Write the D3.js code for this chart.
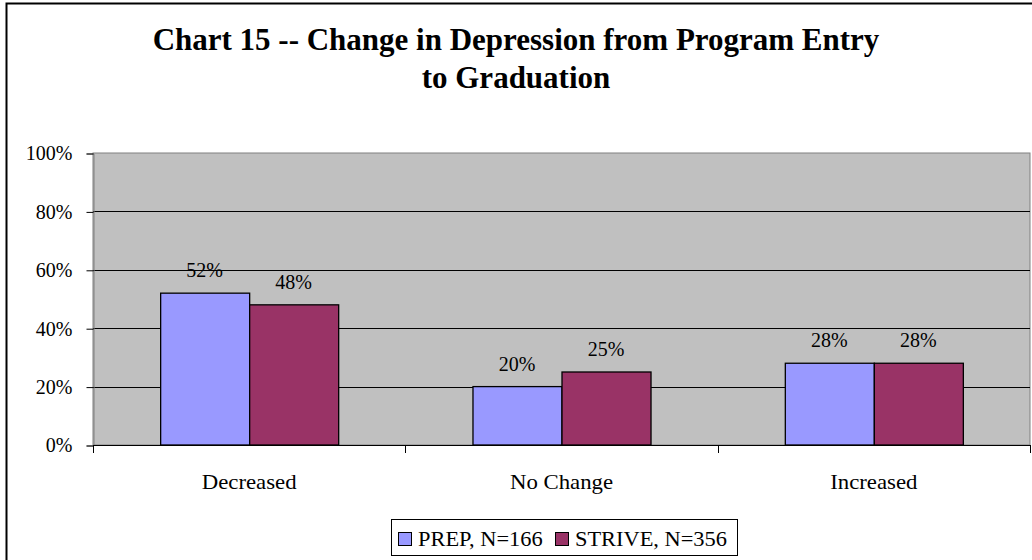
<!DOCTYPE html>
<html>
<head>
<meta charset="utf-8">
<script src="https://cdn.jsdelivr.net/npm/d3@7"></script>
<style>
  html, body { margin: 0; padding: 0; background: #fff; }
  svg { display: block; }
</style>
</head>
<body>
<svg id="chart" width="1032" height="560"></svg>
<script>
// Chart data
const categories = ["Decreased", "No Change", "Increased"];
const seriesNames = ["PREP, N=166", "STRIVE, N=356"];
const prepValues = [52, 20, 28];
const striveValues = [48, 25, 28];
const yTicks = [0, 20, 40, 60, 80, 100];
const titleLines = ["Chart 15 -- Change in Depression from Program Entry", "to Graduation"];
const seriesColors = ["#9999FF", "#993366"];

const SERIF = "'Liberation Serif', 'Times New Roman', 'DejaVu Serif', serif";
const svg = d3.select("#chart").style("font-family", SERIF);
const W = 1032, H = 560;

// Outer chart frame (runs past the right and bottom edges)
svg.append("rect")
  .attr("x", 6.5).attr("y", 3.5)
  .attr("width", W + 20).attr("height", H + 20)
  .attr("fill", "#fff").attr("stroke", "#000").attr("stroke-width", 2);

// Title
svg.append("g").selectAll("text").data(titleLines).join("text")
  .attr("x", 516)
  .attr("y", (d, i) => 50 + i * 38)
  .attr("text-anchor", "middle")
  .style("font-family", SERIF)
  .style("font-size", "31px")
  .style("font-weight", "bold")
  .attr("fill", "#000")
  .text(d => d);

// Plot area
const plot = { left: 93, right: 1030, top: 153, bottom: 445 };

const y = d3.scaleLinear().domain([0, 100]).range([plot.bottom, plot.top]);
const x = d3.scaleBand().domain(categories)
  .range([plot.left, plot.right])
  .paddingInner(0.43).paddingOuter(0.215);
const xs = d3.scaleBand().domain(seriesNames).range([0, x.bandwidth()]).padding(0);

svg.append("rect")
  .attr("x", plot.left).attr("y", plot.top)
  .attr("width", plot.right - plot.left).attr("height", plot.bottom - plot.top)
  .attr("fill", "#C0C0C0").attr("stroke", "#808080").attr("stroke-width", 1);

// Horizontal gridlines
svg.append("g").selectAll("line").data(yTicks.filter(t => t > 0 && t < 100)).join("line")
  .attr("x1", plot.left).attr("x2", plot.right)
  .attr("y1", d => Math.round(y(d)) + 0.5).attr("y2", d => Math.round(y(d)) + 0.5)
  .attr("stroke", "#000").attr("stroke-width", 1);

// Y axis
const yAxis = d3.axisLeft(y).tickValues(yTicks).tickFormat(d => d + "%").tickSize(7).tickPadding(14);
const yg = svg.append("g").attr("transform", `translate(${plot.left + 0.5},0.5)`).call(yAxis)
  .attr("font-family", null).attr("font-size", null);
yg.select(".domain").attr("stroke", "#808080");
yg.selectAll(".tick line").attr("stroke", "#000");
yg.selectAll(".tick text")
  .style("font-family", SERIF).style("font-size", "20px").attr("fill", "#000");

// Bars
const rows = categories.map((c, i) => ({ cat: c, vals: [prepValues[i], striveValues[i]] }));
const groups = svg.append("g").selectAll("g").data(rows).join("g")
  .attr("transform", d => `translate(${x(d.cat)},0)`);

groups.selectAll("rect").data(d => d.vals.map((v, j) => ({ v, s: seriesNames[j], j }))).join("rect")
  .attr("x", d => xs(d.s) + 0.5)
  .attr("y", d => y(d.v))
  .attr("width", xs.bandwidth())
  .attr("height", d => plot.bottom - y(d.v))
  .attr("fill", d => seriesColors[d.j])
  .attr("stroke", "#000").attr("stroke-width", 1.3);

// Value labels
groups.selectAll("text").data(d => d.vals.map((v, j) => ({ v, s: seriesNames[j] }))).join("text")
  .attr("x", d => xs(d.s) + xs.bandwidth() / 2)
  .attr("y", d => y(d.v) - 16)
  .attr("text-anchor", "middle")
  .style("font-family", SERIF).style("font-size", "20px")
  .attr("fill", "#000")
  .text(d => d.v + "%");

// X axis line and category separators
svg.append("line")
  .attr("x1", plot.left).attr("x2", plot.right)
  .attr("y1", plot.bottom + 0.5).attr("y2", plot.bottom + 0.5)
  .attr("stroke", "#000");
const step = x.step();
svg.append("g").selectAll("line").data(d3.range(categories.length + 1)).join("line")
  .attr("x1", i => Math.round(plot.left + i * step) + 0.5)
  .attr("x2", i => Math.round(plot.left + i * step) + 0.5)
  .attr("y1", plot.bottom).attr("y2", plot.bottom + 8)
  .attr("stroke", "#000");

// Category labels (slightly widened serif)
svg.append("g").selectAll("text").data(categories).join("text")
  .attr("transform", d => `translate(${x(d) + x.bandwidth() / 2},489) scale(1.14,1)`)
  .attr("text-anchor", "middle")
  .style("font-family", SERIF).style("font-size", "20px")
  .attr("fill", "#000")
  .text(d => d);

// Legend
const legend = svg.append("g");
legend.append("rect")
  .attr("x", 391.5).attr("y", 519.5).attr("width", 346).attr("height", 36)
  .attr("fill", "#fff").attr("stroke", "#000").attr("stroke-width", 1);
const legendX = [398, 555];
const items = legend.selectAll("g").data(seriesNames).join("g")
  .attr("transform", (d, i) => `translate(${legendX[i]},0)`);
items.append("rect")
  .attr("x", 0.5).attr("y", 532.5).attr("width", 13).attr("height", 13)
  .attr("fill", (d, i) => seriesColors[i]).attr("stroke", "#000");
items.append("text")
  .attr("transform", "translate(20,546) scale(1.12,1)")
  .style("font-family", SERIF).style("font-size", "20px")
  .attr("fill", "#000")
  .text(d => d);
</script>
</body>
</html>
